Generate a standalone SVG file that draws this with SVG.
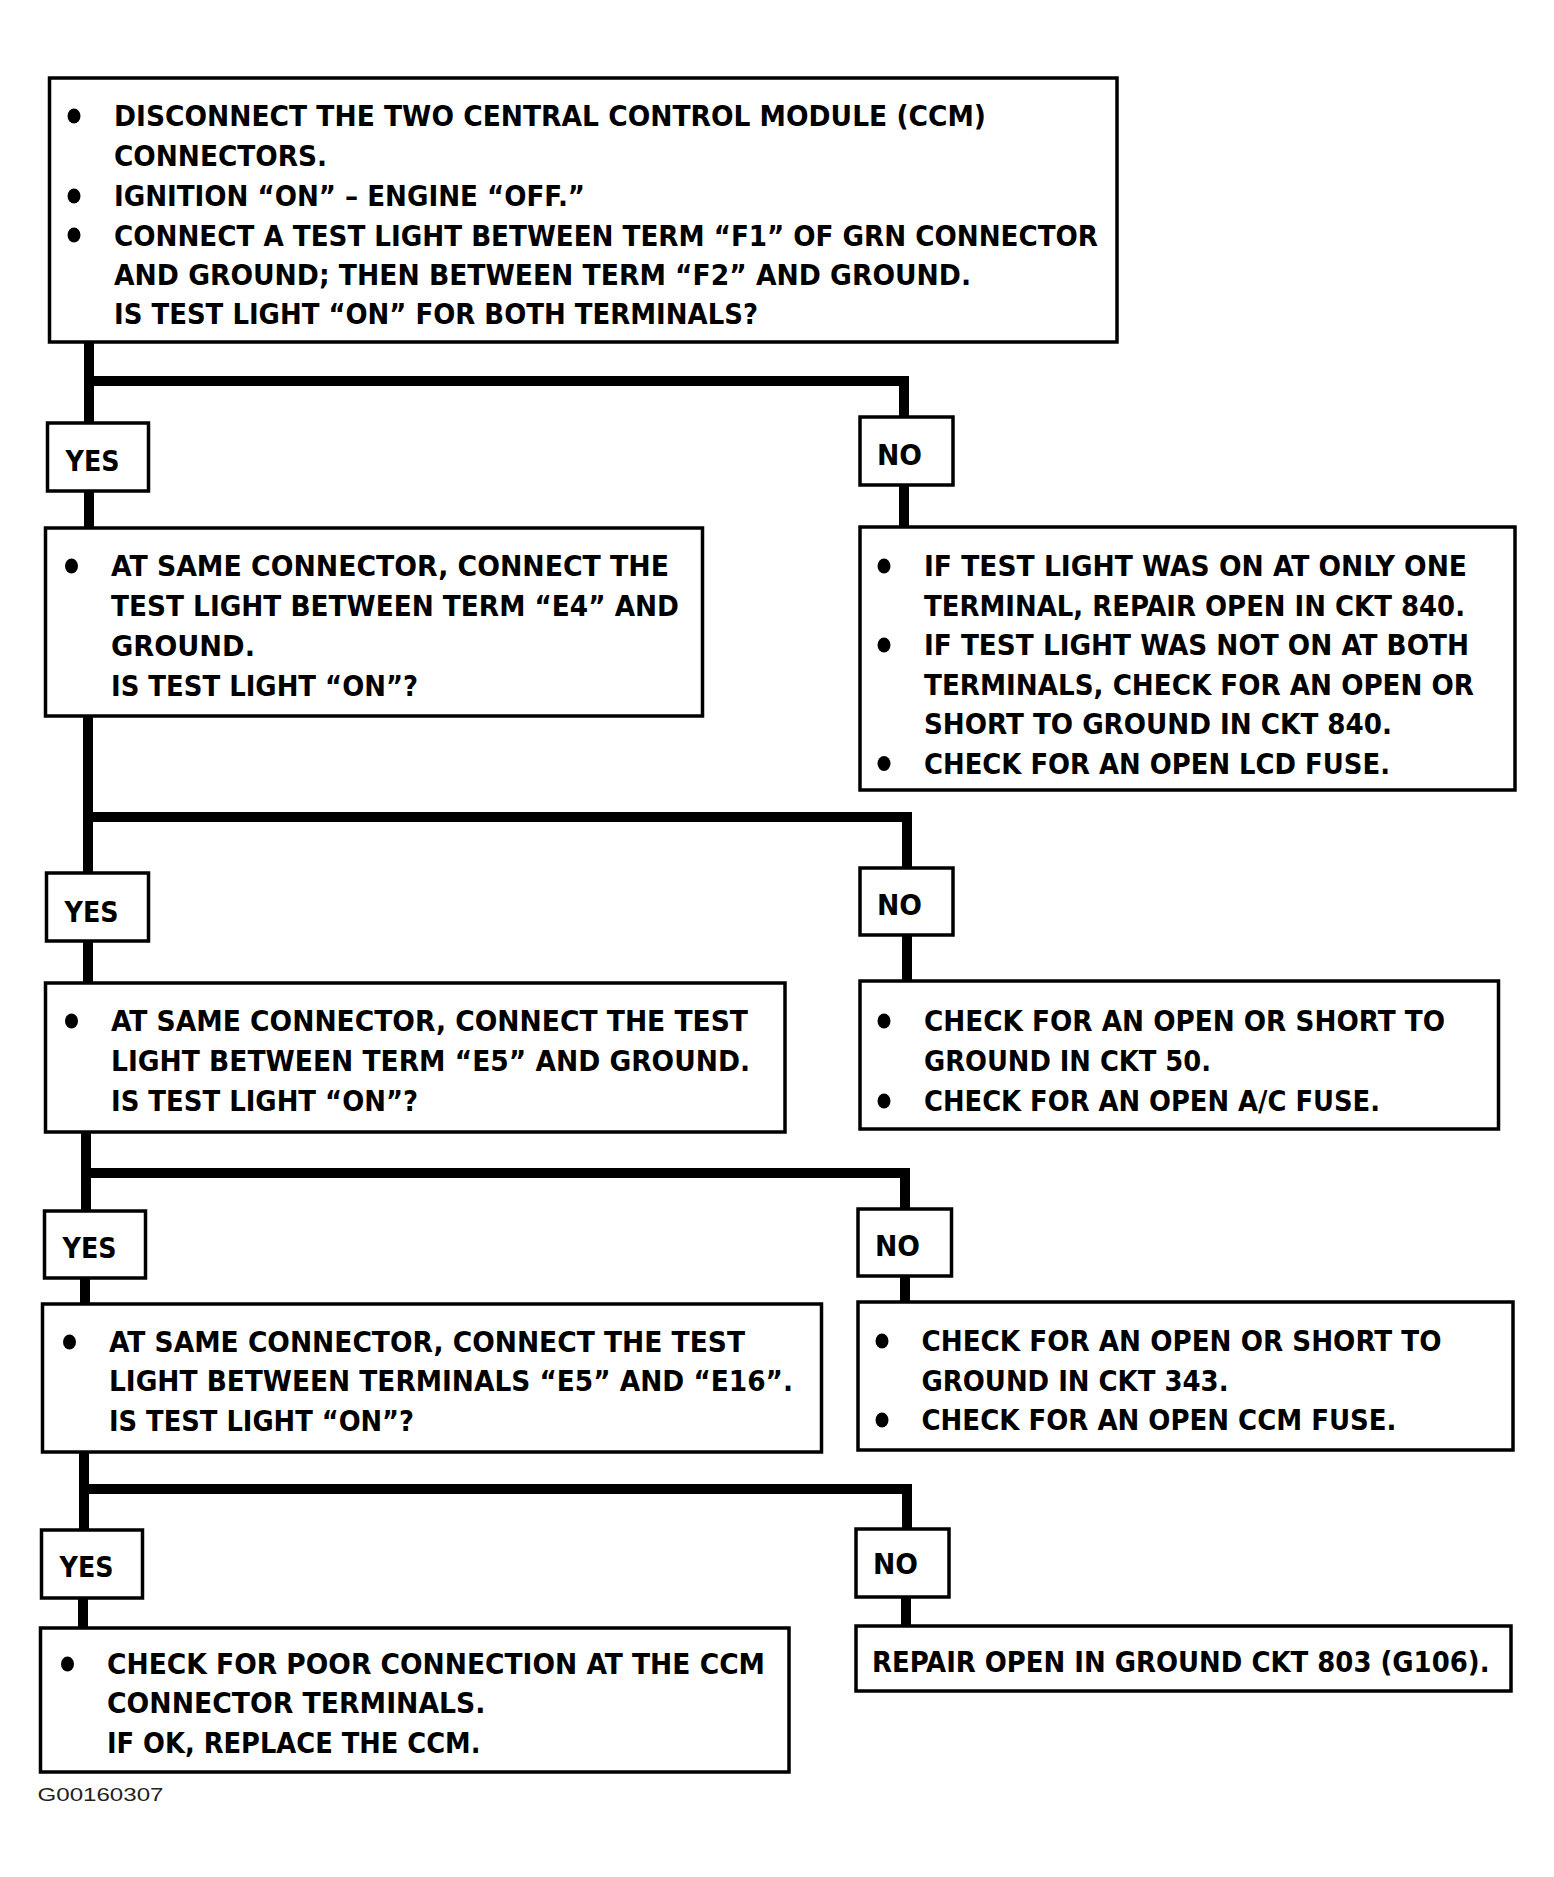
<svg xmlns="http://www.w3.org/2000/svg" width="1554" height="1877" viewBox="0 0 1554 1877">
<style>
.box{fill:#fff;stroke:#000;stroke-width:3.5}
.t{font-family:"Liberation Sans Narrow","DejaVu Sans Condensed","Liberation Sans",sans-serif;font-weight:bold;font-size:28px;fill:#000}
.c{stroke:#000;stroke-width:10;fill:none;stroke-linecap:butt}
.ref{font-family:"Liberation Sans Narrow","Liberation Sans",sans-serif;font-size:19px;fill:#222}
</style>
<rect width="1554" height="1877" fill="#fff"/>
<g id="connectors">
<path class="c" d="M89 342 V424 M89 381 H904 V418 M89 491 V530 M904 485 V528"/>
<path class="c" d="M88 716 V875 M88 817 H907 V869 M88 941 V984 M907 935 V983"/>
<path class="c" d="M86 1131 V1212 M86 1173 H905 V1210 M85 1277 V1305 M905 1275 V1303"/>
<path class="c" d="M84 1451 V1531 M84 1489 H907 V1530 M83 1597 V1629 M906 1597 V1627"/>
</g>
<g id="start">
<rect class="box" x="49.5" y="78" width="1067.5" height="264"/>
<ellipse cx="74" cy="116" rx="6.5" ry="7.5"/>
<ellipse cx="74" cy="196" rx="6.5" ry="7.5"/>
<ellipse cx="74" cy="235" rx="6.5" ry="7.5"/>
<text class="t" x="114" y="126" textLength="872" lengthAdjust="spacingAndGlyphs">DISCONNECT THE TWO CENTRAL CONTROL MODULE (CCM)</text>
<text class="t" x="114" y="166" textLength="213" lengthAdjust="spacingAndGlyphs">CONNECTORS.</text>
<text class="t" x="114" y="206" textLength="471" lengthAdjust="spacingAndGlyphs">IGNITION “ON” – ENGINE “OFF.”</text>
<text class="t" x="114" y="245.5" textLength="984" lengthAdjust="spacingAndGlyphs">CONNECT A TEST LIGHT BETWEEN TERM “F1” OF GRN CONNECTOR</text>
<text class="t" x="114" y="285" textLength="857" lengthAdjust="spacingAndGlyphs">AND GROUND; THEN BETWEEN TERM “F2” AND GROUND.</text>
<text class="t" x="114" y="323.5" textLength="644" lengthAdjust="spacingAndGlyphs">IS TEST LIGHT “ON” FOR BOTH TERMINALS?</text>
</g>
<g id="yes1"><rect class="box" x="47.5" y="423" width="101" height="68"/><text class="t" x="65.5" y="471" textLength="54" lengthAdjust="spacingAndGlyphs">YES</text></g>
<g id="no1"><rect class="box" x="860" y="417" width="93" height="68"/><text class="t" x="877" y="465" textLength="45" lengthAdjust="spacingAndGlyphs">NO</text></g>
<g id="e4">
<rect class="box" x="45.5" y="528" width="657" height="188"/>
<ellipse cx="71.5" cy="566" rx="6.5" ry="7.5"/>
<text class="t" x="111" y="576" textLength="558" lengthAdjust="spacingAndGlyphs">AT SAME CONNECTOR, CONNECT THE</text>
<text class="t" x="111" y="616" textLength="568" lengthAdjust="spacingAndGlyphs">TEST LIGHT BETWEEN TERM “E4” AND</text>
<text class="t" x="111" y="656" textLength="144" lengthAdjust="spacingAndGlyphs">GROUND.</text>
<text class="t" x="111" y="696" textLength="307" lengthAdjust="spacingAndGlyphs">IS TEST LIGHT “ON”?</text>
</g>
<g id="ckt840">
<rect class="box" x="860" y="527" width="655" height="263"/>
<ellipse cx="884" cy="566" rx="6.5" ry="7.5"/>
<ellipse cx="884" cy="645" rx="6.5" ry="7.5"/>
<ellipse cx="884" cy="763.5" rx="6.5" ry="7.5"/>
<text class="t" x="924" y="576" textLength="543" lengthAdjust="spacingAndGlyphs">IF TEST LIGHT WAS ON AT ONLY ONE</text>
<text class="t" x="924" y="615.5" textLength="541" lengthAdjust="spacingAndGlyphs">TERMINAL, REPAIR OPEN IN CKT 840.</text>
<text class="t" x="924" y="655" textLength="545" lengthAdjust="spacingAndGlyphs">IF TEST LIGHT WAS NOT ON AT BOTH</text>
<text class="t" x="924" y="694.5" textLength="550" lengthAdjust="spacingAndGlyphs">TERMINALS, CHECK FOR AN OPEN OR</text>
<text class="t" x="924" y="734" textLength="468" lengthAdjust="spacingAndGlyphs">SHORT TO GROUND IN CKT 840.</text>
<text class="t" x="924" y="773.5" textLength="466" lengthAdjust="spacingAndGlyphs">CHECK FOR AN OPEN LCD FUSE.</text>
</g>
<g id="yes2"><rect class="box" x="46.5" y="873" width="102" height="68"/><text class="t" x="64.5" y="922" textLength="54" lengthAdjust="spacingAndGlyphs">YES</text></g>
<g id="no2"><rect class="box" x="860" y="868" width="93" height="67"/><text class="t" x="877" y="915" textLength="45" lengthAdjust="spacingAndGlyphs">NO</text></g>
<g id="e5">
<rect class="box" x="45.5" y="983" width="739.5" height="149"/>
<ellipse cx="71.5" cy="1021" rx="6.5" ry="7.5"/>
<text class="t" x="111" y="1031" textLength="637" lengthAdjust="spacingAndGlyphs">AT SAME CONNECTOR, CONNECT THE TEST</text>
<text class="t" x="111" y="1071" textLength="639" lengthAdjust="spacingAndGlyphs">LIGHT BETWEEN TERM “E5” AND GROUND.</text>
<text class="t" x="111" y="1111" textLength="307" lengthAdjust="spacingAndGlyphs">IS TEST LIGHT “ON”?</text>
</g>
<g id="ckt50">
<rect class="box" x="860" y="981" width="638.5" height="148"/>
<ellipse cx="884" cy="1021" rx="6.5" ry="7.5"/>
<ellipse cx="884" cy="1101" rx="6.5" ry="7.5"/>
<text class="t" x="924" y="1031" textLength="521" lengthAdjust="spacingAndGlyphs">CHECK FOR AN OPEN OR SHORT TO</text>
<text class="t" x="924" y="1071" textLength="287" lengthAdjust="spacingAndGlyphs">GROUND IN CKT 50.</text>
<text class="t" x="924" y="1111" textLength="456" lengthAdjust="spacingAndGlyphs">CHECK FOR AN OPEN A/C FUSE.</text>
</g>
<g id="yes3"><rect class="box" x="44.5" y="1211" width="101" height="67"/><text class="t" x="62.5" y="1257.5" textLength="54" lengthAdjust="spacingAndGlyphs">YES</text></g>
<g id="no3"><rect class="box" x="858" y="1209" width="93.5" height="67"/><text class="t" x="875" y="1255.5" textLength="45" lengthAdjust="spacingAndGlyphs">NO</text></g>
<g id="e16">
<rect class="box" x="42.5" y="1304" width="779" height="148"/>
<ellipse cx="69.5" cy="1342" rx="6.5" ry="7.5"/>
<text class="t" x="109" y="1352" textLength="636" lengthAdjust="spacingAndGlyphs">AT SAME CONNECTOR, CONNECT THE TEST</text>
<text class="t" x="109" y="1391" textLength="684" lengthAdjust="spacingAndGlyphs">LIGHT BETWEEN TERMINALS “E5” AND “E16”.</text>
<text class="t" x="109" y="1430.5" textLength="305" lengthAdjust="spacingAndGlyphs">IS TEST LIGHT “ON”?</text>
</g>
<g id="ckt343">
<rect class="box" x="858" y="1302" width="655" height="148"/>
<ellipse cx="882" cy="1341" rx="6.5" ry="7.5"/>
<ellipse cx="882" cy="1420" rx="6.5" ry="7.5"/>
<text class="t" x="921.5" y="1351" textLength="520" lengthAdjust="spacingAndGlyphs">CHECK FOR AN OPEN OR SHORT TO</text>
<text class="t" x="921.5" y="1391" textLength="307" lengthAdjust="spacingAndGlyphs">GROUND IN CKT 343.</text>
<text class="t" x="921.5" y="1430" textLength="475" lengthAdjust="spacingAndGlyphs">CHECK FOR AN OPEN CCM FUSE.</text>
</g>
<g id="yes4"><rect class="box" x="41.5" y="1530" width="101" height="68"/><text class="t" x="59.5" y="1576.5" textLength="54" lengthAdjust="spacingAndGlyphs">YES</text></g>
<g id="no4"><rect class="box" x="856" y="1529" width="93" height="68"/><text class="t" x="873" y="1574" textLength="45" lengthAdjust="spacingAndGlyphs">NO</text></g>
<g id="ccm">
<rect class="box" x="40.5" y="1628" width="748.5" height="144"/>
<ellipse cx="67.5" cy="1664" rx="6.5" ry="7.5"/>
<text class="t" x="107" y="1674" textLength="658" lengthAdjust="spacingAndGlyphs">CHECK FOR POOR CONNECTION AT THE CCM</text>
<text class="t" x="107" y="1713" textLength="378.5" lengthAdjust="spacingAndGlyphs">CONNECTOR TERMINALS.</text>
<text class="t" x="107" y="1753" textLength="373.5" lengthAdjust="spacingAndGlyphs">IF OK, REPLACE THE CCM.</text>
</g>
<g id="g106">
<rect class="box" x="856" y="1626" width="655" height="65"/>
<text class="t" x="872" y="1671.5" textLength="617.5" lengthAdjust="spacingAndGlyphs">REPAIR OPEN IN GROUND CKT 803 (G106).</text>
</g>
<text class="ref" x="37.5" y="1801" textLength="126" lengthAdjust="spacingAndGlyphs">G00160307</text>
</svg>
